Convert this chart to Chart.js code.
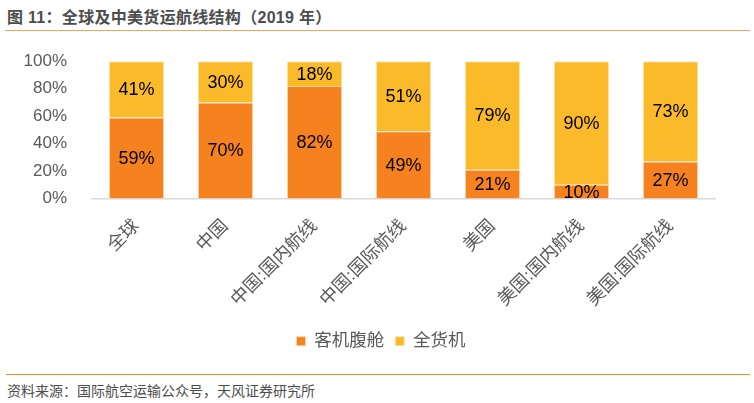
<!DOCTYPE html>
<html>
<head>
<meta charset="utf-8">
<script src="https://cdn.jsdelivr.net/npm/chart.js@4"></script>
<style>
  body { margin: 0; width: 754px; height: 403px; background: #fff; position: relative; overflow: hidden;
         font-family: "Liberation Sans", "Noto Sans CJK SC", sans-serif; }
  #title { position: absolute; left: 7px; top: 4px; font-size: 16px; font-weight: bold; color: #4d4d4d; letter-spacing: 0.3px; }
  #topline { position: absolute; left: 5px; right: 4px; top: 30px; height: 0; border-top: 1.5px solid #f7a35c; }
  #botline { position: absolute; left: 6px; right: 4px; top: 374px; height: 0; border-top: 1.5px solid #f58a1f; }
  #source { position: absolute; left: 7px; top: 380px; font-size: 14px; color: #4d4d4d; }
  #wrap { position: absolute; left: 0; top: 34px; width: 754px; height: 326px; }
</style>
</head>
<body>
<div id="title">图 11：全球及中美货运航线结构（2019 年）</div>
<div id="topline"></div>
<div id="wrap"><canvas id="myChart"></canvas></div>
<div id="botline"></div>
<div id="source">资料来源：国际航空运输公众号，天风证券研究所</div>
<script>
const categories = ['全球', '中国', '中国:国内航线', '中国:国际航线', '美国', '美国:国内航线', '美国:国际航线'];
const bellyCargo = [59, 70, 82, 49, 21, 10, 27];
const freighter = [41, 30, 18, 51, 79, 90, 73];
const yTicks = ['0%', '20%', '40%', '60%', '80%', '100%'];

const fontFamily = '"Liberation Sans", "Noto Sans CJK SC", sans-serif';

// percentage labels centred in each segment
const barLabels = {
  id: 'barLabels',
  afterDatasetsDraw(chart) {
    const c = chart.ctx;
    c.save();
    c.font = '18px ' + fontFamily;
    c.fillStyle = '#000';
    c.textAlign = 'center';
    c.textBaseline = 'middle';
    chart.data.datasets.forEach((ds, i) => {
      chart.getDatasetMeta(i).data.forEach((bar, j) => {
        c.fillText(ds.data[j] + '%', bar.x, (bar.y + bar.base) / 2 + 1);
      });
    });
    c.restore();
  }
};

const ctx = document.getElementById('myChart');
new Chart(ctx, {
  type: 'bar',
  data: {
    labels: categories,
    datasets: [{
      label: '客机腹舱',
      data: bellyCargo,
      backgroundColor: '#f5821f',
      borderColor: '#fbd3a8',
      borderWidth: 1
    }, {
      label: '全货机',
      data: freighter,
      backgroundColor: '#fbba2a',
      borderColor: '#fde3a6',
      borderWidth: 1
    }]
  },
  options: {
    responsive: true,
    maintainAspectRatio: false,
    animation: false,
    layout: { padding: { top: 13, right: 6, left: 14, bottom: 0 } },
    categoryPercentage: 0.62,
    barPercentage: 1,
    plugins: {
      legend: {
        position: 'bottom',
        labels: {
          boxWidth: 9, boxHeight: 9, padding: 11,
          font: { size: 17.5, family: fontFamily },
          color: '#595959'
        }
      },
      tooltip: { enabled: false }
    },
    scales: {
      x: {
        stacked: true,
        grid: { display: false },
        border: { display: true, color: '#d9d9d9', width: 1.5 },
        afterFit: (axis) => { axis.height = 123; },
        ticks: {
          minRotation: 45, maxRotation: 45,
          padding: 9,
          font: { size: 18, family: fontFamily },
          color: '#595959'
        }
      },
      y: {
        stacked: true,
        min: 0, max: 100,
        grid: { display: false },
        border: { display: false },
        afterFit: (axis) => { axis.width = 78; },
        ticks: {
          stepSize: 20,
          font: { size: 17, family: fontFamily },
          color: '#595959',
          padding: 17,
          callback: (v) => yTicks[v / 20]
        }
      },
      yRight: {
        position: 'right',
        grid: { display: false },
        border: { display: false },
        ticks: { display: false },
        afterFit: (axis) => { axis.width = 33; }
      }
    }
  },
  plugins: [barLabels]
});
</script>
</body>
</html>
